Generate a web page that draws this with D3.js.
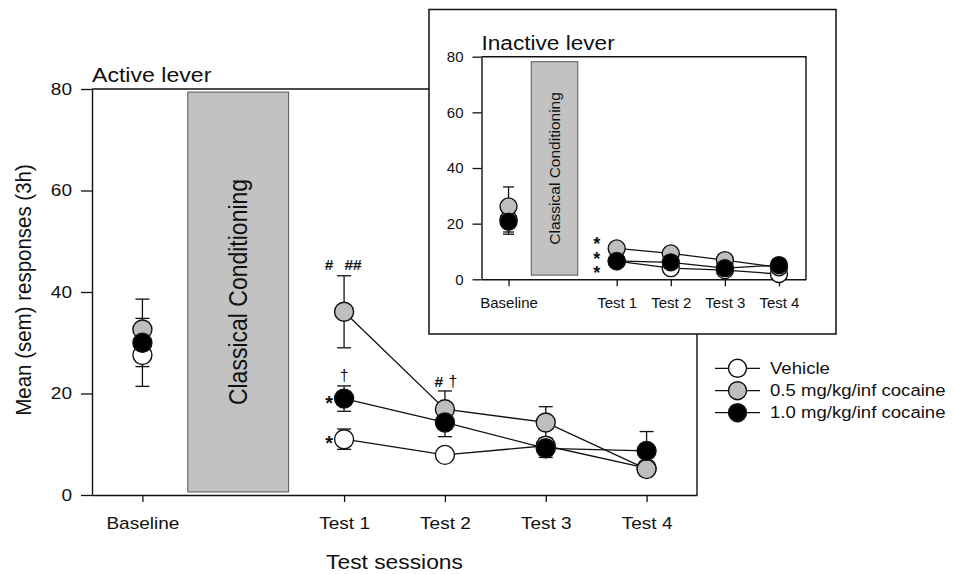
<!DOCTYPE html>
<html><head><meta charset="utf-8">
<script src="https://cdn.jsdelivr.net/npm/d3@7"></script>
<style>
body{margin:0;background:#fff;}
text{font-family:"Liberation Sans",Arial,sans-serif;fill:#111;}
</style></head>
<body><svg id="c" width="954" height="574"></svg>
<script>
// ---------- DATA ----------
const categories = ["Baseline","Test 1","Test 2","Test 3","Test 4"];
const slots = [0,2,3,4,5];            // category slot on the session axis (gap = conditioning)
const seriesNames = ["Vehicle","0.5 mg/kg/inf cocaine","1.0 mg/kg/inf cocaine"];
const seriesFill = ["#ffffff","#bebebe","#000000"];
const yTicks = [0,20,40,60,80];

// Active lever
const activeVehicle = [27.6, 11.0, 7.9, 9.7, 5.3];
const activeVehicleErr = [2.3, 2.0, 0.8, 1.0, 0.8];
const active05 = [32.6, 36.1, 16.9, 14.3, 5.1];
const active05Err = [2.2, 7.1, 3.6, 3.1, 1.2];
const active10 = [30.0, 19.0, 14.3, 9.2, 8.7];
const active10Err = [8.6, 2.5, 2.8, 1.8, 3.8];

// Inactive lever
const inactiveVehicle = [21.5, 6.5, 4.0, 3.3, 1.9];
const inactiveVehicleErr = [4.5, 1.0, 1.0, 0.8, 0.8];
const inactive05 = [26.2, 11.1, 9.3, 6.9, 4.3];
const inactive05Err = [7.0, 1.0, 1.0, 0.8, 0.8];
const inactive10 = [20.7, 6.6, 6.1, 4.0, 5.1];
const inactive10Err = [4.5, 1.0, 1.0, 1.5, 1.0];

// Classical conditioning band (session-axis units, response units)
const bandActive = {x0:0.45, x1:1.45, y0:0.6, y1:79.4};
const bandInactive = {x0:0.42, x1:1.28, y0:1.5, y1:78.2};

// ---------- DRAW ----------
const svg = d3.select("#c");
const FONT = '"Liberation Sans",Arial,sans-serif';

function label(g, x, y, s, size, o={}) {
  const sx = o.sx||1, rot = o.rot||0;
  return g.append("text")
    .attr("transform", `translate(${x},${y}) scale(${sx},1) rotate(${rot})`)
    .attr("text-anchor", o.anchor||"start")
    .attr("dy", o.dy||0)
    .style("font-size", size+"px")
    .style("font-weight", o.bold?"bold":"normal")
    .text(s);
}

function panel(cfg) {
  const g = svg.append("g");
  const x = d3.scaleLinear().domain([-0.5,5.5]).range([cfg.left, cfg.right]);
  const y = d3.scaleLinear().domain([0,80]).range([cfg.bottom, cfg.top]);

  // frame (top & right)
  g.append("path").attr("d", `M${cfg.left},${cfg.top}H${cfg.right}V${cfg.bottom}`)
    .attr("fill","none").attr("stroke","#111").attr("stroke-width",1.4);

  // axes
  const ya = g.append("g").attr("transform",`translate(${cfg.left},0)`)
    .call(d3.axisLeft(y).tickValues(yTicks).tickSizeInner(cfg.yTick).tickSizeOuter(0).tickPadding(cfg.yPad));
  const xa = g.append("g").attr("transform",`translate(0,${cfg.bottom})`)
    .call(d3.axisBottom(x).tickValues(slots).tickFormat((d,i)=>categories[i]).tickSizeInner(7).tickSizeOuter(0).tickPadding(cfg.xPad));
  [ya,xa].forEach(a=>{
    a.select(".domain").attr("stroke","#111").attr("stroke-width",1.4);
    a.selectAll(".tick line").attr("stroke","#111").attr("stroke-width",1.3);
    a.selectAll("text").style("font-family",FONT).style("font-size",cfg.tickFont+"px").attr("fill","#111");
  });
  ya.selectAll("text").each(function(){
    const t=d3.select(this); const xx=+t.attr("x");
    t.attr("x",0).attr("transform",`translate(${xx},0) scale(${cfg.sx},1)`);
  });
  xa.selectAll("text").attr("transform",`scale(${cfg.sx},1)`);

  // conditioning band
  const b = cfg.band;
  g.append("rect").attr("x",x(b.x0)).attr("y",y(b.y1))
    .attr("width",x(b.x1)-x(b.x0)).attr("height",y(b.y0)-y(b.y1))
    .attr("fill","#c2c2c2").attr("stroke","#555").attr("stroke-width",1);
  label(g, (x(b.x0)+x(b.x1))/2, (y(b.y0)+y(b.y1))/2, "Classical Conditioning", cfg.bandFont,
    {sx:cfg.sx, rot:-90, anchor:"middle", dy:"0.35em"});

  // title
  label(g, cfg.left, cfg.titleY, cfg.title, cfg.titleFont, {sx:cfg.titleSx});

  // series
  const ser = cfg.series;
  const line = d3.line().x(d=>x(d.s)).y(d=>y(d.v));
  ser.forEach(sr=>{
    const pts = sr.vals.map((v,i)=>({s:slots[i], v, e:sr.errs[i]}));
    g.append("path").datum(pts.slice(1)).attr("d",line)
      .attr("fill","none").attr("stroke","#111").attr("stroke-width",1.3);
  });
  ser.forEach(sr=>{
    const pts = sr.vals.map((v,i)=>({s:slots[i], v, e:sr.errs[i]}));
    const eg = g.append("g").attr("stroke","#111").attr("stroke-width",1.3);
    pts.forEach(p=>{
      const cx=x(p.s), y1=y(p.v+p.e), y2=y(p.v-p.e);
      eg.append("line").attr("x1",cx).attr("x2",cx).attr("y1",y1).attr("y2",y2);
      eg.append("line").attr("x1",cx-cfg.cap).attr("x2",cx+cfg.cap).attr("y1",y1).attr("y2",y1);
      eg.append("line").attr("x1",cx-cfg.cap).attr("x2",cx+cfg.cap).attr("y1",y2).attr("y2",y2);
    });
  });
  ser.forEach(sr=>{
    sr.vals.forEach((v,i)=>{
      g.append("circle").attr("cx",x(slots[i])).attr("cy",y(v)).attr("r",cfg.r)
        .attr("fill",sr.fill).attr("stroke","#111").attr("stroke-width",1.4);
    });
  });
  return {g,x,y};
}

// Main panel
const main = panel({
  left:92, right:697, top:89, bottom:495, yTick:11, yPad:9, xPad:15, tickFont:16.7, sx:1.14,
  band:bandActive, bandFont:23, title:"Active lever", titleY:82, titleFont:21, titleSx:1.1,
  cap:7, r:9.5,
  series:[
    {vals:activeVehicle, errs:activeVehicleErr, fill:seriesFill[0]},
    {vals:active05, errs:active05Err, fill:seriesFill[1]},
    {vals:active10, errs:active10Err, fill:seriesFill[2]}
  ]
});
// significance marks (main)
{
  const {g,x,y} = main;
  label(g, x(2)-15, 270, "#", 15.5, {anchor:"middle", bold:true});
  label(g, x(2)+9, 270, "##", 15.5, {anchor:"middle", bold:true});
  label(g, x(2), y(active10[1]+active10Err[1])-5, "†", 16, {anchor:"middle"});
  label(g, x(2)-15, y(active10[1])+11, "*", 20, {anchor:"middle", bold:true});
  label(g, x(2)-15, y(activeVehicle[1])+11, "*", 20, {anchor:"middle", bold:true});
  label(g, x(3)-6, 387, "#", 15.5, {anchor:"middle", bold:true});
  label(g, x(3)+8, 387, "†", 16, {anchor:"middle"});
  label(g, (92+697)/2, 569, "Test sessions", 20, {anchor:"middle", sx:1.14});
  label(g, 23, 290, "Mean (sem) responses (3h)", 20.5, {anchor:"middle", rot:-90, sx:1.1, dy:"0.35em"});
}

// Inset box
svg.append("rect").attr("x",429).attr("y",9.5).attr("width",407).attr("height",324.5)
  .attr("fill","#fff").attr("stroke","#111").attr("stroke-width",1.5);

const inset = panel({
  left:481.5, right:806, top:56.7, bottom:279.3, yTick:9, yPad:9, xPad:11, tickFont:15, sx:1.0,
  band:bandInactive, bandFont:15.5, title:"Inactive lever", titleY:50, titleFont:19.5, titleSx:1.16,
  cap:5.5, r:8.5,
  series:[
    {vals:inactiveVehicle, errs:inactiveVehicleErr, fill:seriesFill[0]},
    {vals:inactive05, errs:inactive05Err, fill:seriesFill[1]},
    {vals:inactive10, errs:inactive10Err, fill:seriesFill[2]}
  ]
});
{
  const {g,x} = inset;
  [250, 264.5, 278.5].forEach(b=>label(g, x(2)-20, b, "*", 18, {anchor:"middle", bold:true}));
}

// Legend
const lg = svg.append("g");
const legendRows = [368.3, 390.7, 412.7];
seriesNames.forEach((n,i)=>{
  const yy = legendRows[i];
  lg.append("line").attr("x1",715).attr("x2",760).attr("y1",yy).attr("y2",yy)
    .attr("stroke","#111").attr("stroke-width",1.3);
  lg.append("circle").attr("cx",737.5).attr("cy",yy).attr("r",9)
    .attr("fill",seriesFill[i]).attr("stroke","#111").attr("stroke-width",1.4);
  label(lg, 770, yy, n, 16.3, {sx:1.14, dy:"0.35em"});
});
</script></body></html>
